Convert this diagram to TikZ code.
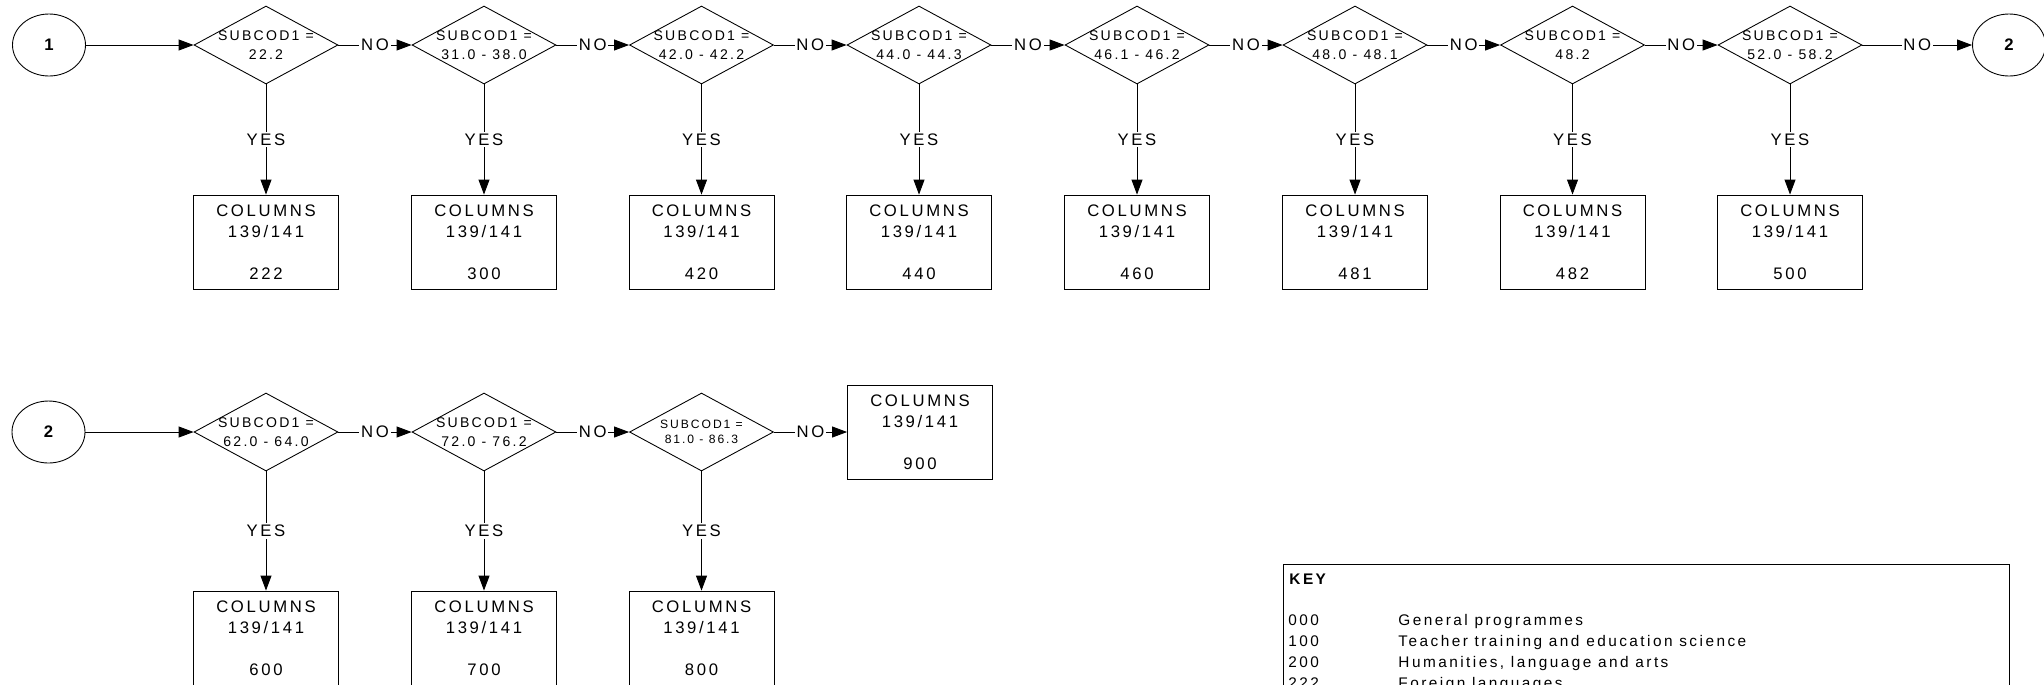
\documentclass[tikz,border=0pt]{standalone}
\usepackage{fontspec}
\setmainfont{Liberation Sans}[LetterSpace=16]
\usetikzlibrary{shapes.geometric,arrows.meta}

\begin{document}
\begin{tikzpicture}[x=0.02cm, y=-0.02cm, line width=0.5pt,
    >={Triangle[length=0.3cm,width=0.22cm]},
    every node/.style={font=\fontsize{9.5}{12}\selectfont},
    conn/.style={ellipse, draw, minimum width=1.46cm, minimum height=1.24cm, inner sep=0pt, font=\fontsize{9.5}{12}\selectfont\bfseries},
    test/.style={diamond, draw, minimum width=2.88cm, minimum height=1.56cm, inner sep=0pt},
    testtext/.style={align=center, inner sep=0pt, font=\fontsize{8}{10.6}\selectfont},
    smalltext/.style={align=center, inner sep=0pt, font=\fontsize{6.9}{8.4}\selectfont},
    colbox/.style={draw, minimum width=2.9cm, minimum height=1.88cm, inner sep=0pt, align=center},
    lbl/.style={fill=white, inner sep=1pt},
    keytext/.style={anchor=base west, inner sep=0pt, font=\fontsize{8.75}{9.5}\selectfont}]
    \useasboundingbox (0,0) rectangle (2044,684);
    \clip (0,0) rectangle (2044,684);

    % first row
    \node[conn] (one) at (49,45) {1};
    \node[test, label={[testtext]center:{SUBCOD1 =\\22.2}}] (s222) at (266,45) {};
    \node[test, label={[testtext]center:{SUBCOD1 =\\31.0 - 38.0}}] (s300) at (484,45) {};
    \node[test, label={[testtext]center:{SUBCOD1 =\\42.0 - 42.2}}] (s420) at (701.5,45) {};
    \node[test, label={[testtext]center:{SUBCOD1 =\\44.0 - 44.3}}] (s440) at (919,45) {};
    \node[test, label={[testtext]center:{SUBCOD1 =\\46.1 - 46.2}}] (s460) at (1137,45) {};
    \node[test, label={[testtext]center:{SUBCOD1 =\\48.0 - 48.1}}] (s481) at (1355,45) {};
    \node[test, label={[testtext]center:{SUBCOD1 =\\48.2}}] (s482) at (1572.5,45) {};
    \node[test, label={[testtext]center:{SUBCOD1 =\\52.0 - 58.2}}] (s500) at (1790,45) {};
    \node[conn] (twoA) at (2009,45) {2};

    \node[colbox] (c222) at (266,242) {COLUMNS\\139/141\\[12pt]222};
    \node[colbox] (c300) at (484,242) {COLUMNS\\139/141\\[12pt]300};
    \node[colbox] (c420) at (701.5,242) {COLUMNS\\139/141\\[12pt]420};
    \node[colbox] (c440) at (919,242) {COLUMNS\\139/141\\[12pt]440};
    \node[colbox] (c460) at (1137,242) {COLUMNS\\139/141\\[12pt]460};
    \node[colbox] (c481) at (1355,242) {COLUMNS\\139/141\\[12pt]481};
    \node[colbox] (c482) at (1572.5,242) {COLUMNS\\139/141\\[12pt]482};
    \node[colbox] (c500) at (1790,242) {COLUMNS\\139/141\\[12pt]500};

    \draw[->] (one) -- (s222.west);
    \draw[->] (s222.east) -- node[lbl]{NO} (s300.west);
    \draw[->] (s300.east) -- node[lbl]{NO} (s420.west);
    \draw[->] (s420.east) -- node[lbl]{NO} (s440.west);
    \draw[->] (s440.east) -- node[lbl]{NO} (s460.west);
    \draw[->] (s460.east) -- node[lbl]{NO} (s481.west);
    \draw[->] (s481.east) -- node[lbl]{NO} (s482.west);
    \draw[->] (s482.east) -- node[lbl]{NO} (s500.west);
    \draw[->] (s500.east) -- node[lbl]{NO} (twoA);

    \draw[->] (s222.south) -- node[lbl]{YES} (c222.north);
    \draw[->] (s300.south) -- node[lbl]{YES} (c300.north);
    \draw[->] (s420.south) -- node[lbl]{YES} (c420.north);
    \draw[->] (s440.south) -- node[lbl]{YES} (c440.north);
    \draw[->] (s460.south) -- node[lbl]{YES} (c460.north);
    \draw[->] (s481.south) -- node[lbl]{YES} (c481.north);
    \draw[->] (s482.south) -- node[lbl]{YES} (c482.north);
    \draw[->] (s500.south) -- node[lbl]{YES} (c500.north);

    % second row
    \node[conn] (twoB) at (48.5,432) {2};
    \node[test, label={[testtext]center:{SUBCOD1 =\\62.0 - 64.0}}] (s600) at (266,432) {};
    \node[test, label={[testtext]center:{SUBCOD1 =\\72.0 - 76.2}}] (s700) at (484,432) {};
    \node[test, label={[smalltext]center:{SUBCOD1 =\\81.0 - 86.3}}] (s800) at (701.5,432) {};
    \node[colbox] (c900) at (920,432) {COLUMNS\\139/141\\[12pt]900};
    \node[colbox] (c600) at (266,638) {COLUMNS\\139/141\\[12pt]600};
    \node[colbox] (c700) at (484,638) {COLUMNS\\139/141\\[12pt]700};
    \node[colbox] (c800) at (701.5,638) {COLUMNS\\139/141\\[12pt]800};

    \draw[->] (twoB) -- (s600.west);
    \draw[->] (s600.east) -- node[lbl]{NO} (s700.west);
    \draw[->] (s700.east) -- node[lbl]{NO} (s800.west);
    \draw[->] (s800.east) -- node[lbl]{NO} (c900.west);
    \draw[->] (s600.south) -- node[lbl]{YES} (c600.north);
    \draw[->] (s700.south) -- node[lbl]{YES} (c700.north);
    \draw[->] (s800.south) -- node[lbl]{YES} (c800.north);

    % key
    \node[draw, anchor=north west, minimum width=14.52cm, minimum height=3.5cm, inner sep=0pt] (key) at (1283,564) {};
    \node[keytext, font=\fontsize{8.75}{9.5}\selectfont\bfseries] (keyhead) at (1289,584) {KEY};
    \node[keytext] (k000) at (1288,625.5) {000};
    \node[keytext] (t000) at (1398,625.5) {General programmes};
    \node[keytext] (k100) at (1288,646.5) {100};
    \node[keytext] (t100) at (1398,646.5) {Teacher training and education science};
    \node[keytext] (k200) at (1288,667.5) {200};
    \node[keytext] (t200) at (1398,667.5) {Humanities, language and arts};
    \node[keytext] (k222) at (1288,688.5) {222};
    \node[keytext] (t222) at (1398,688.5) {Foreign languages};
\end{tikzpicture}
\end{document}
